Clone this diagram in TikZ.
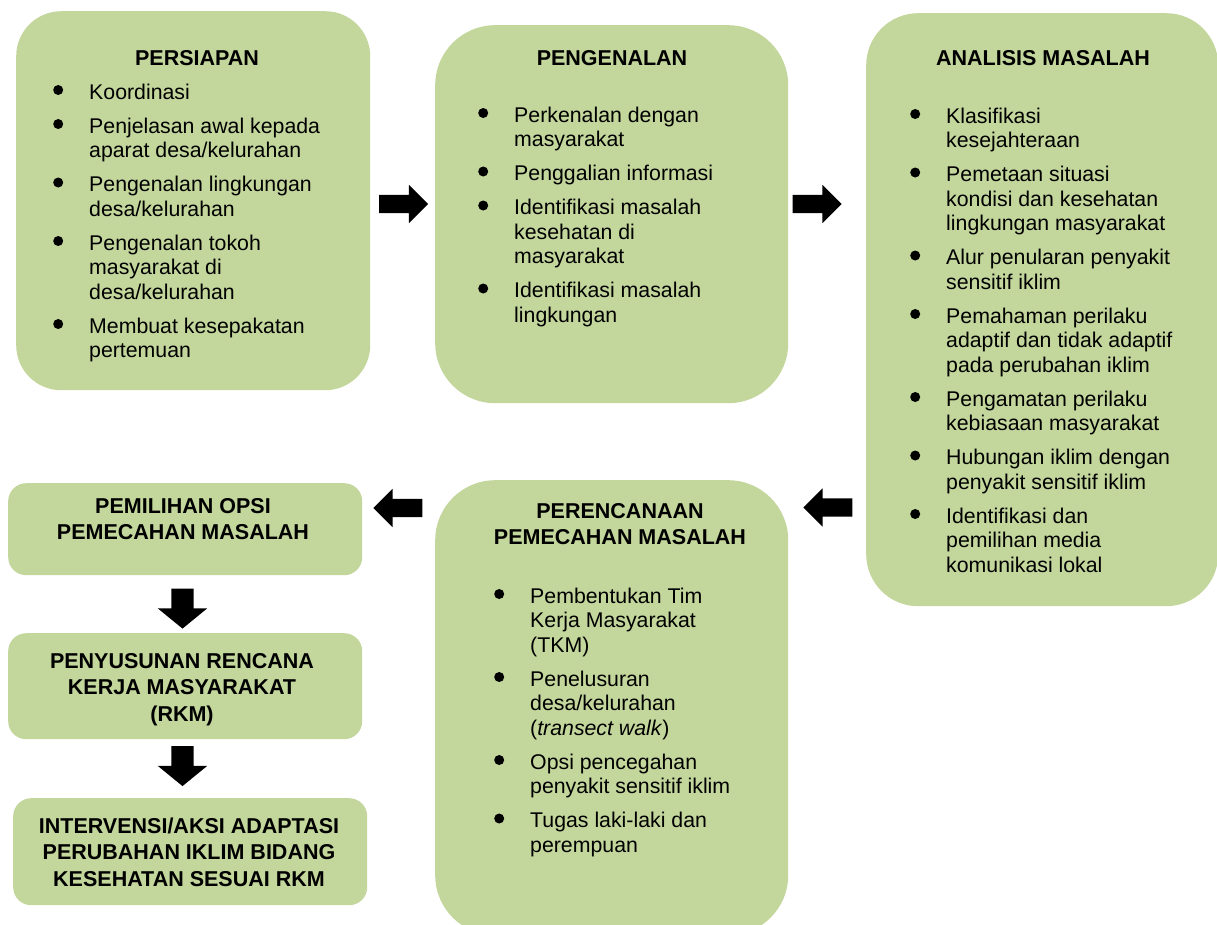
\documentclass[tikz,border=0pt]{standalone}
\usepackage{fontspec}
\setmainfont{Liberation Sans}
\usetikzlibrary{shapes.arrows}
\definecolor{boxgreen}{RGB}{195,214,155}
\newcommand\bul{\makebox[36pt][l]{\tikz[baseline={(0pt,-9pt)}]\fill (5pt,0pt) circle (5pt);}}
\begin{document}
\begin{tikzpicture}[x=1pt,y=-1pt,
  bigbox/.style={fill=boxgreen, draw=none, rectangle, anchor=north west, inner sep=0pt},
  ttl/.style={inner sep=0pt, anchor=base, font=\fontsize{21.5}{26.5}\selectfont\bfseries},
  lst/.style={inner sep=0pt, anchor=base west, font=\fontsize{21.3}{24.5}\selectfont},
  harrow/.style={single arrow, fill=black, draw=none, inner xsep=0pt, inner ysep=9pt,
    minimum height=49pt, minimum width=38pt, single arrow head extend=10pt},
  varrow/.style={single arrow, fill=black, draw=none, inner xsep=0pt, inner ysep=11pt,
    minimum height=40pt, minimum width=49pt, single arrow head extend=13.5pt,
    single arrow tip angle=101.5, rotate=-90}
]
\useasboundingbox (0,0) rectangle (1217,924);
\clip (0,0) rectangle (1217,924);
\fill[white] (0,0) rectangle (1217,924);

% boxes
\node[bigbox, minimum width=354pt, minimum height=379pt, rounded corners=45pt] (persiapan) at (16,11) {};
\node[bigbox, minimum width=353pt, minimum height=378pt, rounded corners=60pt] (pengenalan) at (435,25) {};
\node[bigbox, minimum width=352pt, minimum height=593pt, rounded corners=52pt] (analisis) at (866,13) {};
\node[bigbox, minimum width=353pt, minimum height=455pt, rounded corners=60pt] (perencanaan) at (435,480) {};
\node[bigbox, minimum width=354pt, minimum height=92pt, rounded corners=18pt] (pemilihan) at (8,483) {};
\node[bigbox, minimum width=354pt, minimum height=106pt, rounded corners=18pt] (penyusunan) at (8,633) {};
\node[bigbox, minimum width=354pt, minimum height=107pt, rounded corners=18pt] (intervensi) at (13,798) {};

% titles
\node[ttl] (t1) at (197,65) {PERSIAPAN};
\node[ttl] (t2) at (612,65) {PENGENALAN};
\node[ttl] (t3) at (1043,65) {ANALISIS MASALAH};
\node[ttl] (t4) at (620,518) {\begin{tabular}[t]{@{}c@{}}PERENCANAAN\\PEMECAHAN MASALAH\end{tabular}};
\node[ttl] (t5) at (183,513) {\begin{tabular}[t]{@{}c@{}}PEMILIHAN OPSI\\PEMECAHAN MASALAH\end{tabular}};
\node[ttl] (t6) at (182,668) {\begin{tabular}[t]{@{}c@{}}PENYUSUNAN RENCANA\\KERJA MASYARAKAT\\(RKM)\end{tabular}};
\node[ttl] (t7) at (189,833) {\begin{tabular}[t]{@{}c@{}}INTERVENSI/AKSI ADAPTASI\\PERUBAHAN IKLIM BIDANG\\KESEHATAN SESUAI RKM\end{tabular}};

% lists
\node[lst] (l1) at (53,99) {\begin{tabular}[t]{@{}l@{}l@{}}
\bul & Koordinasi\\[9.5pt]
\bul & Penjelasan awal kepada\\
 & aparat desa/kelurahan\\[9.5pt]
\bul & Pengenalan lingkungan\\
 & desa/kelurahan\\[9.5pt]
\bul & Pengenalan tokoh\\
 & masyarakat di\\
 & desa/kelurahan\\[9.5pt]
\bul & Membuat kesepakatan\\
 & pertemuan
\end{tabular}};

\node[lst] (l2) at (478,122) {\begin{tabular}[t]{@{}l@{}l@{}}
\bul & Perkenalan dengan\\
 & masyarakat\\[9.5pt]
\bul & Penggalian informasi\\[9.5pt]
\bul & Identifikasi masalah\\
 & kesehatan di\\
 & masyarakat\\[9.5pt]
\bul & Identifikasi masalah\\
 & lingkungan
\end{tabular}};

\node[lst] (l3) at (910,123) {\begin{tabular}[t]{@{}l@{}l@{}}
\bul & Klasifikasi\\
 & kesejahteraan\\[9.5pt]
\bul & Pemetaan situasi\\
 & kondisi dan kesehatan\\
 & lingkungan masyarakat\\[9.5pt]
\bul & Alur penularan penyakit\\
 & sensitif iklim\\[9.5pt]
\bul & Pemahaman perilaku\\
 & adaptif dan tidak adaptif\\
 & pada perubahan iklim\\[9.5pt]
\bul & Pengamatan perilaku\\
 & kebiasaan masyarakat\\[9.5pt]
\bul & Hubungan iklim dengan\\
 & penyakit sensitif iklim\\[9.5pt]
\bul & Identifikasi dan\\
 & pemilihan media\\
 & komunikasi lokal
\end{tabular}};

\node[lst] (l4) at (494,603) {\begin{tabular}[t]{@{}l@{}l@{}}
\bul & Pembentukan Tim\\
 & Kerja Masyarakat\\
 & (TKM)\\[9.5pt]
\bul & Penelusuran\\
 & desa/kelurahan\\
 & (\textit{transect walk})\\[9.5pt]
\bul & Opsi pencegahan\\
 & penyakit sensitif iklim\\[9.5pt]
\bul & Tugas laki-laki dan\\
 & perempuan
\end{tabular}};

% block arrows
\node[harrow] (a1) at (399,204) {};
\node[harrow] (a2) at (812.5,204) {};
\node[harrow, rotate=180] (a3) at (832.5,507.5) {};
\node[harrow, rotate=180] (a4) at (402.5,508) {};
\node[varrow] (a5) at (182.5,604) {};
\node[varrow] (a6) at (182.5,761.5) {};
\end{tikzpicture}
\end{document}
